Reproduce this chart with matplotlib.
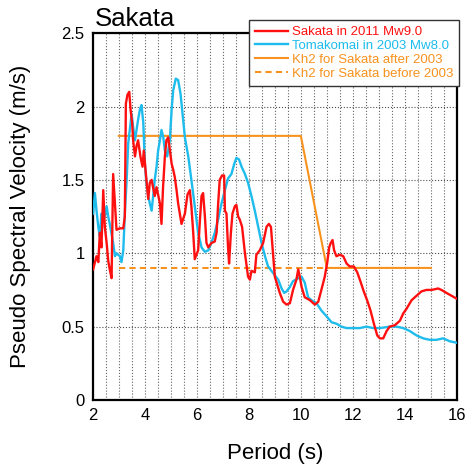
import matplotlib
matplotlib.use("Agg")
import matplotlib.pyplot as plt

plt.rcParams['font.family'] = ['Liberation Sans', 'DejaVu Sans']

# Sakata in 2011 Mw9.0
red_x = [2.01, 2.14, 2.21, 2.27, 2.33, 2.40, 2.46, 2.53, 2.59, 2.65, 2.72, 2.78, 2.85, 2.91,
         3.04, 3.17, 3.23, 3.27, 3.33, 3.40, 3.45, 3.51, 3.55, 3.62, 3.68, 3.74, 3.83, 3.91,
         3.96, 4.06, 4.13, 4.19, 4.26, 4.38, 4.45, 4.58, 4.64, 4.70, 4.77, 4.83, 4.90, 5.03,
         5.09, 5.15, 5.22, 5.28, 5.41, 5.54, 5.64, 5.73, 5.79, 5.86, 5.92, 6.05, 6.12, 6.18,
         6.24, 6.31, 6.37, 6.44, 6.56, 6.69, 6.76, 6.82, 6.88, 6.97, 7.05, 7.08, 7.14, 7.20,
         7.24, 7.31, 7.37, 7.46, 7.52, 7.59, 7.65, 7.74, 7.85, 7.97, 8.04, 8.10, 8.23, 8.29,
         8.42, 8.55, 8.68, 8.77, 8.85, 8.94, 9.00, 9.19, 9.32, 9.45, 9.58, 9.70, 9.83, 9.90,
         9.96, 10.03, 10.15, 10.35, 10.54, 10.67, 10.79, 10.92, 11.01, 11.09, 11.15, 11.22,
         11.28, 11.37, 11.50, 11.63, 11.76, 11.88, 12.04, 12.17, 12.29, 12.42, 12.55, 12.68,
         12.81, 12.94, 13.04, 13.17, 13.30, 13.42, 13.62, 13.81, 13.94, 14.06, 14.26, 14.45,
         14.64, 14.83, 15.03, 15.28, 15.41, 15.60, 15.80, 16.00]
red_y = [0.89, 0.98, 0.94, 1.14, 1.04, 1.43, 1.18, 1.07, 0.95, 0.89, 0.83, 1.54, 1.34, 1.16,
         1.17, 1.17, 1.25, 2.02, 2.08, 2.10, 1.98, 1.89, 1.77, 1.66, 1.73, 1.77, 1.66, 1.59,
         1.70, 1.50, 1.37, 1.48, 1.50, 1.39, 1.45, 1.34, 1.20, 1.45, 1.66, 1.77, 1.79, 1.61,
         1.57, 1.52, 1.43, 1.34, 1.20, 1.27, 1.40, 1.43, 1.32, 1.14, 0.96, 1.02, 1.23, 1.39,
         1.41, 1.25, 1.07, 1.04, 1.07, 1.08, 1.14, 1.34, 1.50, 1.53, 1.53, 1.29, 1.27, 1.04,
         0.93, 1.14, 1.27, 1.32, 1.33, 1.25, 1.23, 1.18, 1.00, 0.84, 0.82, 0.88, 0.87, 0.99,
         1.02, 1.07, 1.18, 1.20, 1.18, 0.98, 0.84, 0.73, 0.67, 0.65, 0.66, 0.75, 0.82, 0.89,
         0.84, 0.77, 0.70, 0.68, 0.65, 0.67, 0.75, 0.84, 0.93, 1.04, 1.07, 1.09,
         1.02, 0.98, 0.99, 0.98, 0.93, 0.91, 0.91, 0.87, 0.81, 0.74, 0.68, 0.61,
         0.52, 0.44, 0.42, 0.42, 0.47, 0.50, 0.51, 0.54, 0.59, 0.62, 0.68, 0.71,
         0.74, 0.75, 0.75, 0.76, 0.75, 0.73, 0.71, 0.69]

# Tomakomai in 2003 Mw8.0
blue_x = [2.01, 2.08, 2.14, 2.21, 2.27, 2.33, 2.40, 2.46, 2.53, 2.59, 2.65, 2.78, 2.85, 2.91,
          2.97, 3.04, 3.10, 3.17, 3.23, 3.30, 3.36, 3.42, 3.49, 3.55, 3.62, 3.68, 3.74, 3.81,
          3.87, 3.94, 4.00, 4.06, 4.13, 4.19, 4.26, 4.32, 4.38, 4.45, 4.51, 4.58, 4.64, 4.71,
          4.77, 4.86, 4.96, 5.03, 5.09, 5.19, 5.28, 5.37, 5.45, 5.54, 5.67, 5.79, 5.92, 6.05,
          6.18, 6.31, 6.44, 6.56, 6.69, 6.82, 6.95, 7.08, 7.20, 7.33, 7.44, 7.52, 7.62, 7.72,
          7.85, 7.97, 8.10, 8.23, 8.36, 8.49, 8.62, 8.74, 8.87, 9.00, 9.13, 9.26, 9.36, 9.45,
          9.58, 9.70, 9.90, 10.03, 10.15, 10.28, 10.41, 10.60, 10.79, 10.99, 11.18, 11.37,
          11.56, 11.76, 12.01, 12.27, 12.52, 12.78, 13.04, 13.42, 13.68, 13.94, 14.19, 14.45,
          14.71, 14.96, 15.22, 15.47, 15.73, 16.00]
blue_y = [1.27, 1.41, 1.29, 1.18, 1.11, 1.27, 1.23, 1.25, 1.32, 1.25, 1.20, 1.07, 0.98, 1.00,
          0.99, 0.98, 0.94, 1.02, 1.27, 1.50, 1.75, 1.84, 1.95, 1.86, 1.77, 1.84, 1.91, 1.98,
          2.01, 1.89, 1.61, 1.48, 1.39, 1.34, 1.29, 1.39, 1.50, 1.59, 1.70, 1.77, 1.84, 1.79,
          1.70, 1.66, 1.77, 1.98, 2.11, 2.19, 2.18, 2.09, 1.95, 1.79, 1.66, 1.50, 1.32, 1.14,
          1.04, 1.01, 1.02, 1.07, 1.14, 1.23, 1.34, 1.43, 1.51, 1.54, 1.61, 1.65, 1.64, 1.59,
          1.54, 1.48, 1.39, 1.29, 1.18, 1.07, 0.98, 0.91, 0.88, 0.85, 0.82, 0.76, 0.73, 0.74,
          0.77, 0.81, 0.83, 0.84, 0.80, 0.70, 0.68, 0.66, 0.61, 0.57, 0.53, 0.52,
          0.50, 0.49, 0.49, 0.49, 0.50, 0.49, 0.49, 0.50, 0.50, 0.49, 0.47, 0.44,
          0.42, 0.41, 0.41, 0.42, 0.40, 0.39]

# Kh2 design spectra
after_x = [3, 10, 11, 15]
after_y = [1.8, 1.8, 0.9, 0.9]
before_x = [3, 11]
before_y = [0.9, 0.9]

fig = plt.figure(figsize=(4.69, 4.67), dpi=100)
ax = fig.add_axes([0.198, 0.1435, 0.776, 0.7855])

ax.plot(red_x, red_y, color='#ff1010', lw=1.7, label='Sakata in 2011 Mw9.0', zorder=4)
ax.plot(blue_x, blue_y, color='#1ebcec', lw=1.7, label='Tomakomai in 2003 Mw8.0', zorder=3)
ax.plot(after_x, after_y, color='#f7921e', lw=1.5, label='Kh2 for Sakata after 2003', zorder=2)
ax.plot(before_x, before_y, color='#f7921e', lw=1.5, ls=(0, (3, 2)),
        label='Kh2 for Sakata before 2003', zorder=2)

ax.set_xlim(2, 16)
ax.set_ylim(0, 2.5)
ax.set_xticks(range(2, 17, 2))
ax.set_xticks([x / 2 for x in range(4, 33)], minor=True)
ax.set_yticks([0, 0.5, 1, 1.5, 2, 2.5])
ax.set_yticklabels(['0', '0.5', '1', '1.5', '2', '2.5'])
ax.grid(True, which='both', axis='x', ls=':', color='0.4', lw=0.8)
ax.grid(True, which='major', axis='y', ls=':', color='0.3', lw=0.8)
ax.tick_params(which='both', length=0, labelsize=12, pad=6)
for s in ax.spines.values():
    s.set_linewidth(1.6)

ax.set_title('Sakata', loc='left', fontsize=18.5, pad=5, x=0.005)
ax.set_xlabel('Period (s)', fontsize=16, labelpad=14)
ax.set_ylabel('Pseudo Spectral Velocity (m/s)', fontsize=16, labelpad=22)

leg = ax.legend(loc='upper right', bbox_to_anchor=(0.979, 0.957),
                bbox_transform=fig.transFigure, fontsize=9.5, handlelength=2.5,
                handletextpad=0.3, labelspacing=0.12, borderpad=0.45, borderaxespad=0,
                fancybox=False, framealpha=1, edgecolor='0.2')
leg.get_frame().set_linewidth(1.0)
for txt, line in zip(leg.get_texts(), leg.get_lines()):
    txt.set_color(line.get_color())

fig.savefig('out.png', dpi=100)
